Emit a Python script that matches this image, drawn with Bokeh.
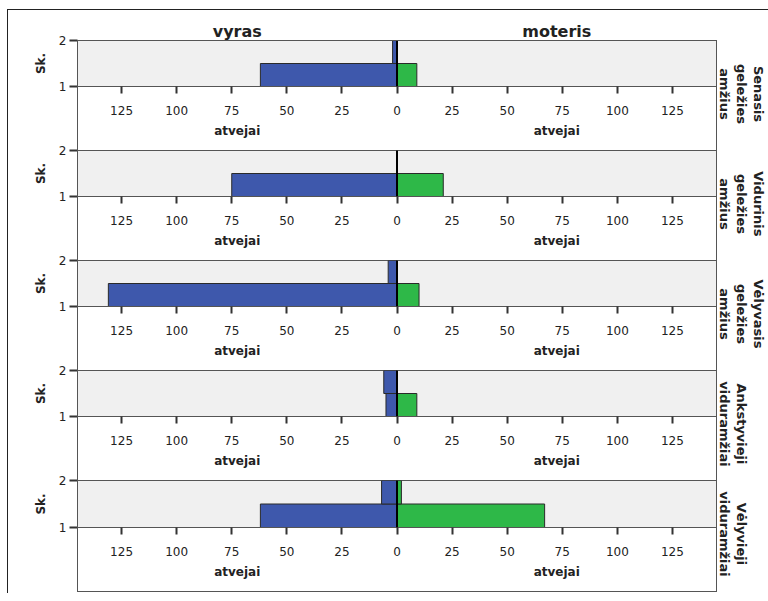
from bokeh.plotting import figure
from bokeh.models import (ColumnDataSource, Range1d, FixedTicker, CustomJSTickFormatter,
                          Span, LinearAxis, Title, InlineStyleSheet)
from bokeh.layouts import column
from bokeh.embed import file_html
from bokeh.resources import INLINE

# ---------------- data ----------------
period_lines = [
    ["Senasis", "geležies", "amžius"],
    ["Vidurinis", "geležies", "amžius"],
    ["Vėlyvasis", "geležies", "amžius"],
    ["Ankstyvieji", "viduramžiai"],
    ["Vėlyvieji", "viduramžiai"],
]
sex_labels = ["vyras", "moteris"]
sk_levels = [1, 2]
# counts (atvejai) per period, for Sk. = 1 and Sk. = 2
male_sk1 = [62, 75, 131, 5, 62]
male_sk2 = [2, 0, 4, 6, 7]
female_sk1 = [9, 21, 10, 9, 67]
female_sk2 = [0, 0, 0, 0, 2]
x_ticks = [-125, -100, -75, -50, -25, 0, 25, 50, 75, 100, 125]
x_title = "atvejai"
y_title = "Sk."

# ---------------- style ----------------
XMAX = 145
FONT = "DejaVu Sans"
BLUE = "#3e58ac"
GREEN = "#2eb848"
PANEL_BG = "#f0f0f0"
LINE = "#555555"
TICK = "#333333"
TXT = "#222222"
FRAME_H = 47
FACET_PX = 13
# approximate DejaVu Sans Bold advance widths (em) used to centre the facet labels
ADV = {'S': 0.720, 'e': 0.678, 'n': 0.712, 'a': 0.675, 's': 0.595, 'i': 0.343, 'g': 0.716,
       'l': 0.343, 'ž': 0.582, 'u': 0.712, 'm': 1.042, 'V': 0.774, 'd': 0.716, 'r': 0.493,
       'ė': 0.678, 'y': 0.652, 'v': 0.652, 'A': 0.774, 'k': 0.665, 't': 0.478, 'j': 0.343}


def text_w(s, px):
    return sum(ADV.get(c, 0.65) for c in s) * px


bin_w = (sk_levels[-1] - sk_levels[0]) / len(sk_levels)
bottoms = [sk_levels[0] + k * bin_w for k in range(len(sk_levels))]
tops = [b + bin_w for b in bottoms]
half_centres = [-XMAX / 2, XMAX / 2]

figs = []
n = len(period_lines)
for i in range(n):
    first = i == 0
    last = i == n - 1
    top_b = 30 if first else 10
    bot_b = 66 if last else 53
    h = top_b + FRAME_H + bot_b
    p = figure(width=760, height=h, x_range=Range1d(-XMAX, XMAX),
               y_range=Range1d(sk_levels[0], sk_levels[-1]),
               output_backend="svg", toolbar_location=None, title=None,
               min_border_left=69, min_border_right=52, min_border_top=top_b, min_border_bottom=bot_b,
               background_fill_color=PANEL_BG, border_fill_color="white",
               outline_line_color=LINE, outline_line_width=1)
    p.xgrid.visible = False
    p.ygrid.visible = False

    # x axis with counts
    p.xaxis.ticker = FixedTicker(ticks=x_ticks)
    p.xaxis.formatter = CustomJSTickFormatter(code="return String(Math.abs(tick));")
    p.xaxis.minor_tick_line_color = None
    p.xaxis.major_tick_in = 0
    p.xaxis.major_tick_out = 7
    p.xaxis.major_label_standoff = 12
    p.xaxis.axis_line_color = LINE
    p.xaxis.major_tick_line_color = TICK
    p.xaxis.major_tick_line_width = 2
    p.xaxis.major_label_text_font = FONT
    p.xaxis.major_label_text_font_size = "12px"
    p.xaxis.major_label_text_color = TXT

    # y axis
    p.yaxis.ticker = FixedTicker(ticks=sk_levels)
    p.yaxis.minor_tick_line_color = None
    p.yaxis.major_tick_in = 0
    p.yaxis.major_tick_out = 8
    p.yaxis.major_label_standoff = 3
    p.yaxis.axis_line_color = LINE
    p.yaxis.major_tick_line_color = TICK
    p.yaxis.major_tick_line_width = 2
    p.yaxis.major_label_text_font = FONT
    p.yaxis.major_label_text_font_size = "12px"
    p.yaxis.major_label_text_color = TXT
    p.yaxis.axis_label = y_title
    p.yaxis.axis_label_text_font = FONT
    p.yaxis.axis_label_text_font_size = "12px"
    p.yaxis.axis_label_text_font_style = "bold"
    p.yaxis.axis_label_text_color = TXT
    p.yaxis.axis_label_standoff = 8

    # second below axis carrying the "atvejai" title under each half
    ta = LinearAxis(ticker=FixedTicker(ticks=half_centres),
                    formatter=CustomJSTickFormatter(args=dict(lab=x_title), code="return lab;"),
                    axis_line_color=None, major_tick_line_color=None, minor_tick_line_color=None,
                    major_tick_in=0, major_tick_out=0, major_label_standoff=6,
                    major_label_text_font=FONT, major_label_text_font_size="12px",
                    major_label_text_font_style="bold", major_label_text_color=TXT)
    p.add_layout(ta, "below")

    if first:
        sa = LinearAxis(ticker=FixedTicker(ticks=half_centres),
                        formatter=CustomJSTickFormatter(args=dict(labels=sex_labels),
                                                        code="return tick < 0 ? labels[0] : labels[1];"),
                        axis_line_color=None, major_tick_line_color=None, minor_tick_line_color=None,
                        major_tick_in=0, major_tick_out=0, major_label_standoff=0,
                        major_label_text_font=FONT, major_label_text_font_size="16px",
                        major_label_text_font_style="bold", major_label_text_color=TXT)
        p.add_layout(sa, "above")

    # bars
    m_vals = [male_sk1[i], male_sk2[i]]
    f_vals = [female_sk1[i], female_sk2[i]]
    msrc = ColumnDataSource(dict(left=[-v for v in m_vals], right=[0] * len(m_vals), bottom=bottoms, top=tops))
    fsrc = ColumnDataSource(dict(left=[0] * len(f_vals), right=f_vals, bottom=bottoms, top=tops))
    p.quad(left="left", right="right", bottom="bottom", top="top", source=msrc,
           fill_color=BLUE, line_color="#2a2a2a", line_width=1)
    p.quad(left="left", right="right", bottom="bottom", top="top", source=fsrc,
           fill_color=GREEN, line_color="#2a2a2a", line_width=1)

    p.add_layout(Span(location=0, dimension="height", line_color="black", line_width=2))

    # facet label on the right: one title per line, innermost line added first
    centre = FRAME_H + 6.5
    for line in reversed(period_lines[i]):
        p.add_layout(Title(text=line, align="left", offset=centre - text_w(line, FACET_PX) / 2,
                           standoff=0, text_font=FONT, text_font_size=f"{FACET_PX}px",
                           text_font_style="bold", text_color=TXT), "right")
    figs.append(p)

box_css = InlineStyleSheet(css="""
:host { position: relative; }
:host::after { content: ""; position: absolute; left: 69px; top: 30px; width: 638px; height: 550px;
               border: 1px solid #555555; pointer-events: none; }
""")

layout = column(*figs, spacing=0, stylesheets=[box_css],
                styles={"margin-left": "7px", "margin-top": "9px",
                        "border-left": "1px solid #222", "border-top": "1px solid #222"})

open("out.html", "w").write(file_html(layout, INLINE))
